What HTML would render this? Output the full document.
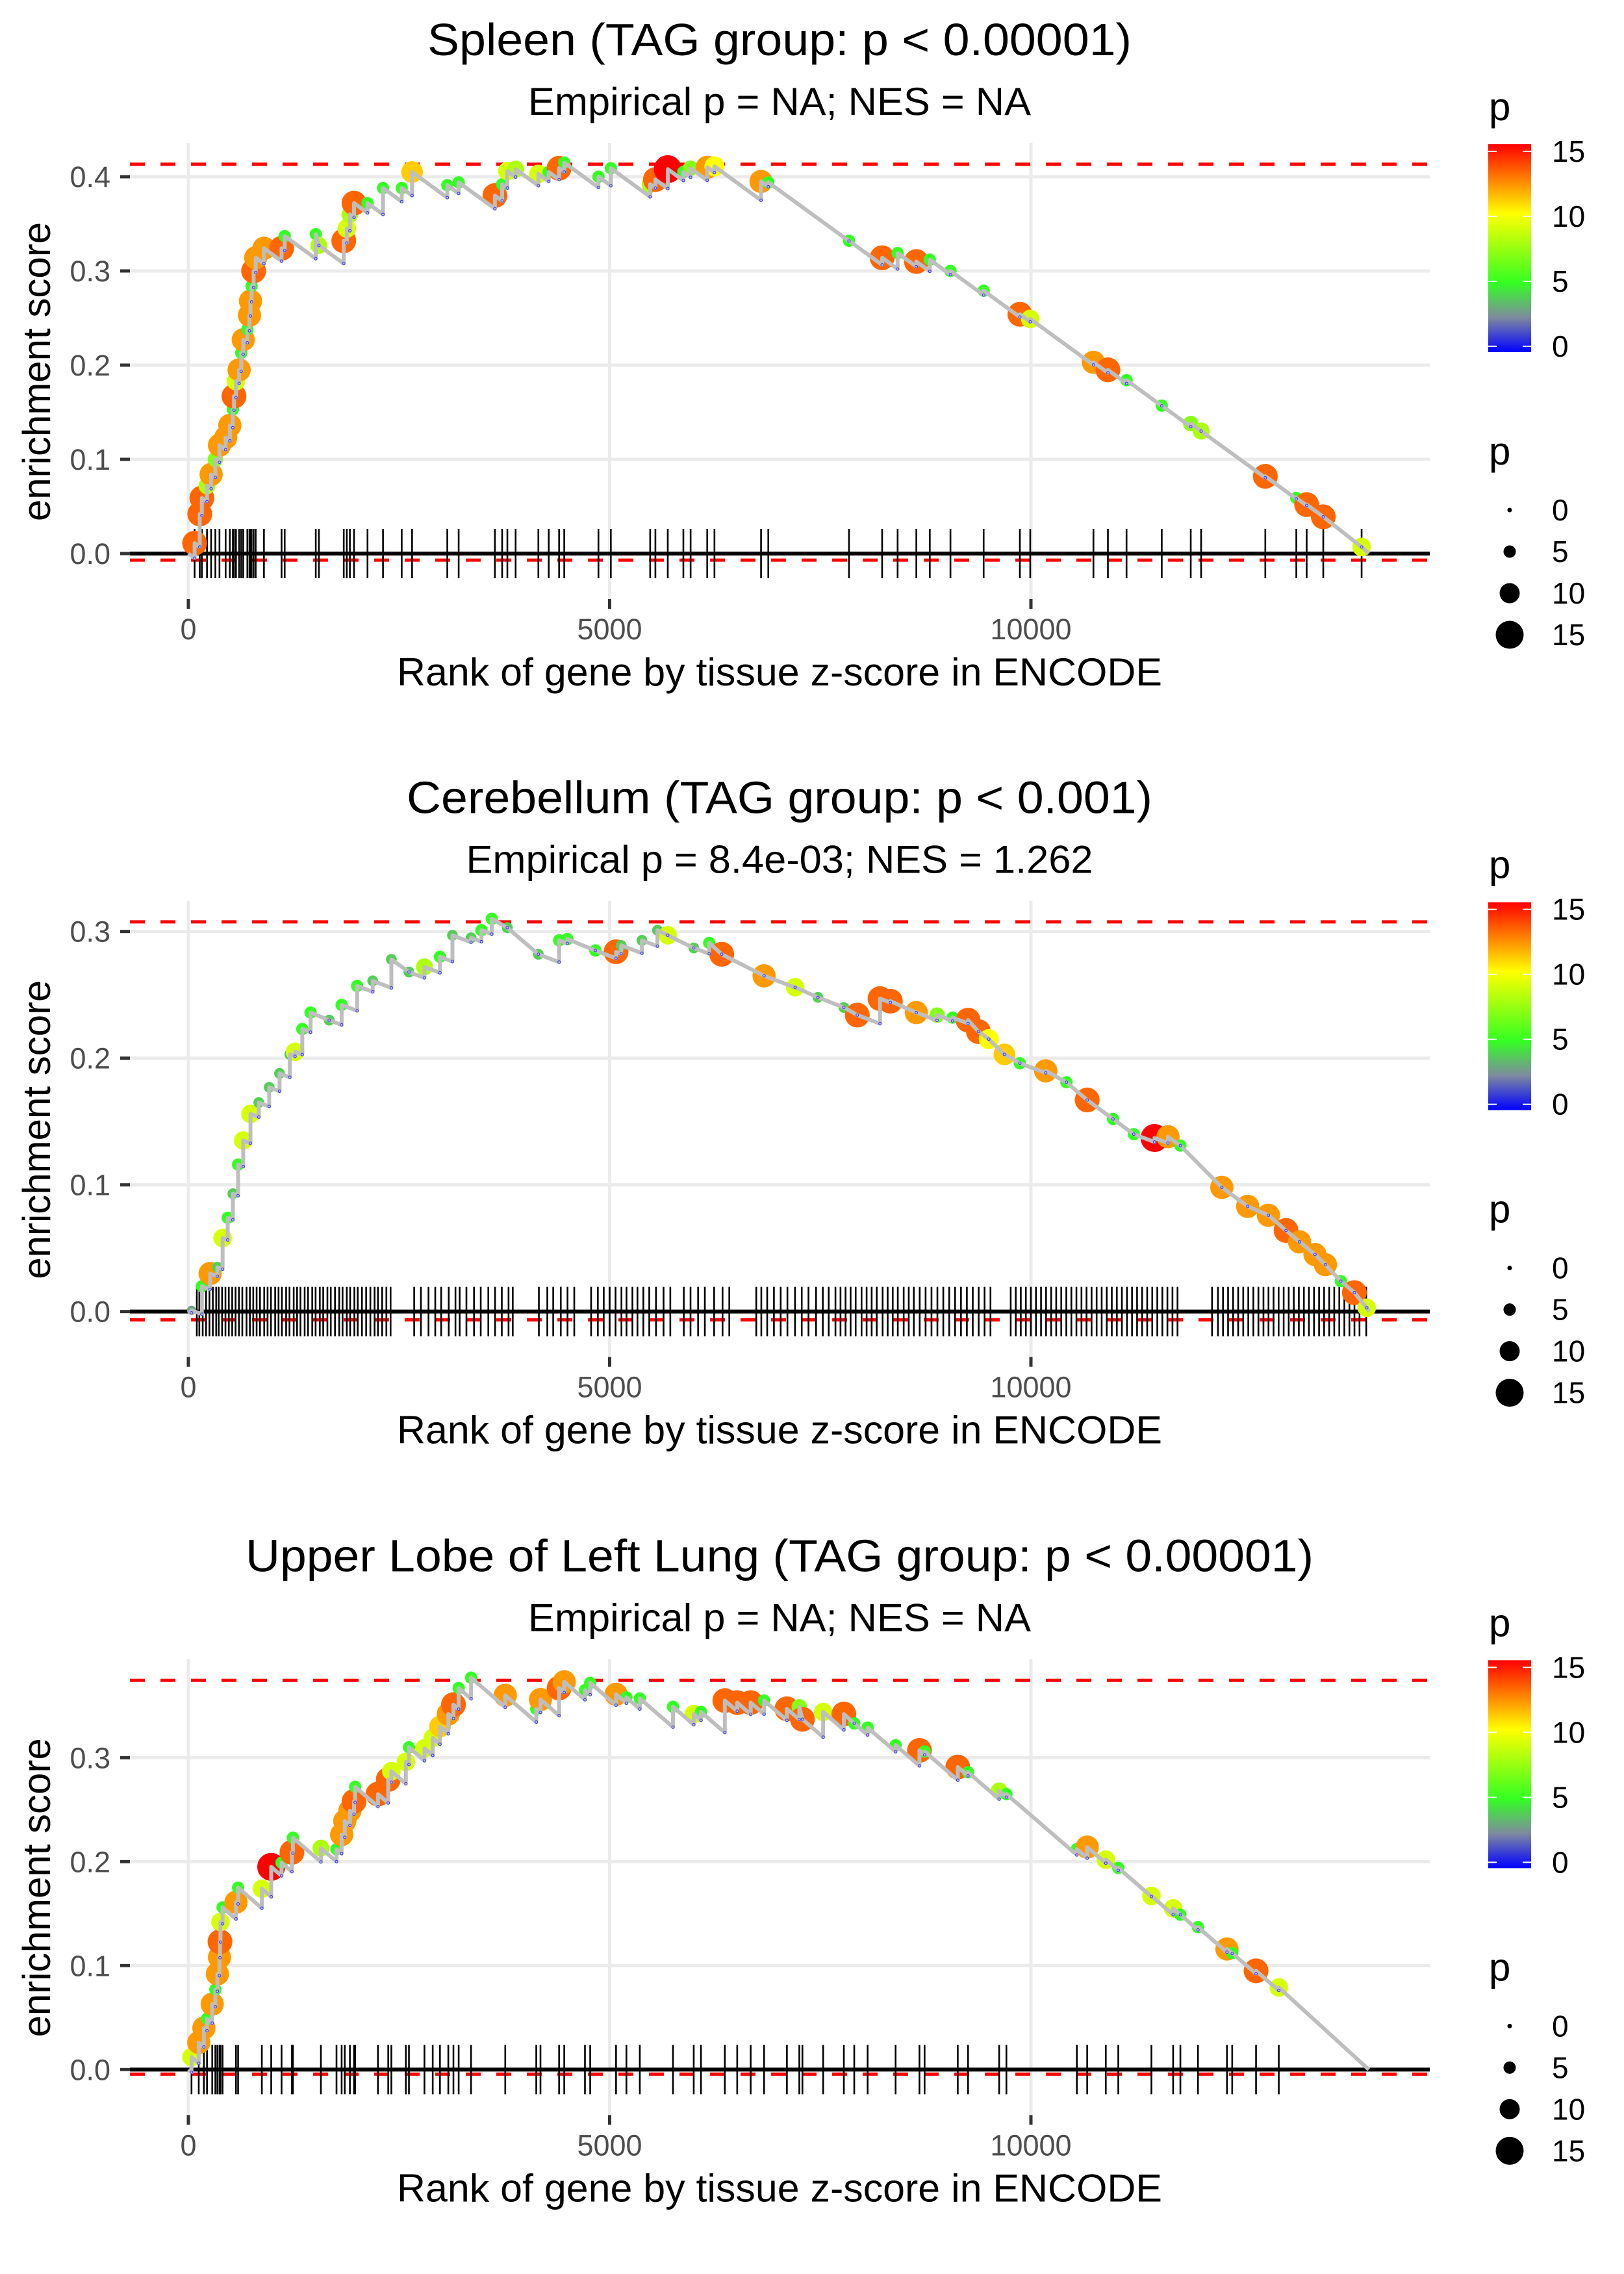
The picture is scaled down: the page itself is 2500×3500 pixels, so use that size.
<!DOCTYPE html>
<html><head><meta charset="utf-8"><style>
html,body{margin:0;padding:0;background:#fff;}
svg{display:block;font-family:"Liberation Sans",sans-serif;}
</style></head><body>
<svg id="chart" width="2500" height="3500" viewBox="0 0 2500 3500" xmlns="http://www.w3.org/2000/svg">
<defs>
<linearGradient id="pgrad" x1="0" y1="1" x2="0" y2="0">
<stop offset="0" stop-color="#0000ff"/>
<stop offset="0.1667" stop-color="#7f8aa0"/>
<stop offset="0.3333" stop-color="#33ff22"/>
<stop offset="0.6667" stop-color="#ffff00"/>
<stop offset="1" stop-color="#ff0000"/>
</linearGradient>
</defs>
</svg>
<script>
// ---- Panel 1: Spleen ----
const spleenRank=[74,135,160,221,270,320,369,442,492,528,541,565,602,627,651,700,725,737,750,774,799,897,1106,1143,1512,1549,1844,1880,1917,1966,2126,2310,2532,2655,3073,3208,3638,3724,3786,3884,4154,4277,4400,4461,4867,5014,5481,5543,5690,5875,5961,6158,6244,6797,6883,7841,8234,8418,8640,8800,9045,9439,9869,9992,10742,10914,11135,11553,11897,12020,12782,13150,13273,13470,13925];
const spleenES=[0.011,0.042,0.059,0.072,0.084,0.100,0.115,0.123,0.136,0.153,0.167,0.183,0.195,0.213,0.227,0.238,0.253,0.268,0.284,0.300,0.314,0.324,0.324,0.337,0.339,0.327,0.332,0.345,0.360,0.372,0.372,0.388,0.388,0.405,0.391,0.394,0.380,0.392,0.406,0.408,0.403,0.405,0.409,0.415,0.400,0.409,0.392,0.397,0.408,0.405,0.409,0.410,0.411,0.395,0.394,0.332,0.314,0.319,0.310,0.312,0.300,0.279,0.254,0.249,0.203,0.195,0.184,0.157,0.138,0.130,0.082,0.059,0.052,0.039,0.007];
const spleenP=[13,13,13,8,12,7,12,12,12,5,13,9,12,5,12,5,12,12,5,13,12,12,13,5,5,8,13,9,8,13,5,5,5,11,5,5,13,5,9,8,9,5,13,5,5,5,8,13,15,5,7,12,10,12,5,5,13,5,13,5,5,5,13,9,12,13,5,5,7,8,13,5,13,13,9];
const spleenTicks=spleenRank;
const spleenYTicks=[0,0.1,0.2,0.3,0.4];
const spleenYLabels=["0.0","0.1","0.2","0.3","0.4"];

// ---- Panel 2: Cerebellum ----
const cereRank=[37,160,258,344,406,467,528,590,651,737,836,959,1082,1204,1266,1352,1450,1671,1819,2003,2188,2409,2618,2802,2986,3134,3355,3478,3601,3785,4154,4400,4498,4830,5076,5137,5383,5567,5690,5998,6182,6330,6833,7202,7472,7780,7939,8209,8332,8640,8886,9070,9254,9377,9500,9685,9869,10176,10422,10668,10975,11221,11467,11627,11774,12266,12573,12819,13028,13188,13372,13495,13679,13839,13986];
const cereES=[0.001,0.020,0.030,0.035,0.058,0.074,0.093,0.116,0.135,0.156,0.165,0.177,0.188,0.203,0.205,0.223,0.236,0.230,0.242,0.257,0.261,0.278,0.268,0.272,0.280,0.297,0.295,0.301,0.310,0.303,0.282,0.293,0.294,0.285,0.284,0.289,0.293,0.301,0.297,0.287,0.291,0.282,0.265,0.256,0.248,0.240,0.234,0.247,0.245,0.236,0.234,0.232,0.230,0.221,0.215,0.203,0.196,0.190,0.181,0.167,0.152,0.140,0.137,0.138,0.131,0.098,0.083,0.076,0.064,0.055,0.045,0.037,0.024,0.015,0.003];
const cereP=[3,5,12,4,9,5,4,5,9,9,4,4,4,4,9,5,5,4,5,5,4,4,4,8,5,4,4,5,5,4,4,5,5,5,13,4,4,4,9,4,5,13,12,9,4,4,13,13,13,12,7,5,13,13,10,11,5,12,5,13,5,5,15,12,5,12,12,12,13,12,12,12,5,13,9];
const cereTicks=[100,130,170,210,250,290,330,360,400,440,480,520,560,600,640,690,730,770,810,850,900,940,980,1030,1070,1110,1160,1200,1250,1290,1330,1380,1420,1470,1510,1560,1600,1650,1690,1740,1790,1830,1880,1920,1970,2010,2060,2110,2160,2210,2250,2300,2350,2400,2680,2760,2850,2930,3000,3090,3170,3220,3300,3390,3470,3560,3640,3720,3800,3850,4160,4260,4330,4420,4500,4580,4780,4860,4930,5000,5070,5140,5200,5270,5330,5400,5470,5550,5640,5720,5880,5960,6050,6130,6240,6340,6420,6740,6800,6870,6950,7030,7110,7200,7280,7360,7450,7530,7600,7680,7740,7800,7860,7920,7990,8050,8110,8170,8240,8300,8360,8420,8490,8550,8610,8680,8750,8820,8890,8960,9030,9100,9170,9240,9310,9380,9450,9520,9760,9820,9880,9940,10000,10060,10120,10180,10240,10300,10360,10420,10480,10540,10600,10660,10720,10780,10840,10900,10960,11020,11080,11140,11200,11260,11320,11380,11440,11500,11560,11620,11680,11740,12150,12220,12280,12340,12400,12460,12520,12580,12640,12700,12760,12820,12880,12940,13000,13060,13120,13180,13240,13300,13360,13420,13480,13540,13600,13660,13720,13780,13840,13900,13980];
const cereYTicks=[0,0.1,0.2,0.3];
const cereYLabels=["0.0","0.1","0.2","0.3"];

// ---- Panel 3: Upper Lobe of Left Lung ----
const lungRank=[37,123,184,221,283,320,344,369,375,381,406,565,590,872,983,1106,1229,1241,1573,1758,1819,1856,1917,1966,1979,2250,2372,2409,2581,2618,2802,2900,2986,3085,3146,3208,3355,3761,4129,4179,4400,4461,4707,4769,5076,5199,5358,5752,5998,6084,6367,6514,6674,6833,7104,7251,7288,7534,7780,7903,8062,8394,8677,8738,9132,9254,9623,9709,10545,10668,10889,11037,11430,11688,11774,11983,12327,12389,12672,12942];
const lungES=[0.012,0.026,0.040,0.049,0.063,0.077,0.092,0.108,0.123,0.142,0.156,0.161,0.175,0.174,0.195,0.199,0.209,0.223,0.213,0.212,0.226,0.239,0.249,0.258,0.272,0.265,0.279,0.287,0.296,0.310,0.309,0.319,0.330,0.342,0.351,0.367,0.377,0.360,0.347,0.356,0.367,0.373,0.365,0.372,0.361,0.358,0.357,0.349,0.342,0.344,0.355,0.353,0.353,0.355,0.347,0.349,0.337,0.344,0.342,0.333,0.329,0.312,0.307,0.306,0.291,0.286,0.268,0.265,0.212,0.214,0.202,0.194,0.167,0.155,0.149,0.137,0.116,0.112,0.095,0.079];
const lungP=[9,12,12,5,12,5,12,12,13,9,5,12,5,9,15,5,13,5,8,5,12,12,12,13,5,13,13,9,9,5,9,9,11,12,13,5,5,12,5,12,13,12,5,5,12,5,5,5,9,5,13,13,13,5,13,7,13,9,13,5,5,5,13,5,13,5,8,5,5,12,9,5,9,9,5,5,12,5,13,9];
const lungTicks=lungRank;
const lungYTicks=[0,0.1,0.2,0.3];
const lungYLabels=["0.0","0.1","0.2","0.3"];

const xTicks=[0,5000,10000];
const xTickLabels=["0","5000","10000"];
const legendColorVals=[0,5,10,15];
const legendSizeVals=[0,5,10,15];

const panels=[
 {name:'spleen',title:'Spleen (TAG group: p < 0.00001)',tw:1084,sub:'Empirical p = NA; NES = NA',sw:774,rank:spleenRank,es:spleenES,p:spleenP,ticks:spleenTicks,yt:spleenYTicks,yl:spleenYLabels,unit:1450,top:0.4133,bot:-0.007,slope:6.5e-5,end:14010},
 {name:'cerebellum',title:'Cerebellum (TAG group: p < 0.001)',tw:1148,sub:'Empirical p = 8.4e-03; NES = 1.262',sw:965,rank:cereRank,es:cereES,p:cereP,ticks:cereTicks,yt:cereYTicks,yl:cereYLabels,unit:1950,top:0.3076,bot:-0.0065,slope:2.5e-5,end:14010},
 {name:'lung',title:'Upper Lobe of Left Lung (TAG group: p < 0.00001)',tw:1644,sub:'Empirical p = NA; NES = NA',sw:774,rank:lungRank,es:lungES,p:lungP,ticks:lungTicks,yt:lungYTicks,yl:lungYLabels,unit:1600,top:0.3744,bot:-0.0044,slope:7e-5,end:14010}
];

const NS='http://www.w3.org/2000/svg';
const svg=document.getElementById('chart');
function mk(tag,attrs,parent){const e=document.createElementNS(NS,tag);for(const k in attrs)e.setAttribute(k,attrs[k]);(parent||svg).appendChild(e);return e;}
const xS=r=>290+r*0.1297;
const stops=[[0,[0,0,255]],[2.5,[127,138,160]],[5,[51,255,34]],[10,[255,255,0]],[15,[255,0,0]]];
function col(p){p=Math.max(0,Math.min(15,p));for(let i=0;i<stops.length-1;i++){const a=stops[i],b=stops[i+1];if(p<=b[0]){const t=(p-a[0])/(b[0]-a[0]);const c=a[1].map((v,j)=>Math.round(v+(b[1][j]-v)*t));return `rgb(${c[0]},${c[1]},${c[2]})`;}}return 'rgb(255,0,0)';}
const rad=p=>3.5+1.2*p;
const L=200,R=2201;

panels.forEach((P,i)=>{
 const off=i*1166.67;
 const yS=v=>off+852-v*P.unit;
 const g=mk('g',{});
 
 
 let t=mk('text',{x:1200,y:off+85,'text-anchor':'middle','font-size':70,fill:'#000',textLength:P.tw,lengthAdjust:'spacingAndGlyphs'},g);t.textContent=P.title;
 
 t=mk('text',{x:1200,y:off+177,'text-anchor':'middle','font-size':60,fill:'#000',textLength:P.sw,lengthAdjust:'spacingAndGlyphs'},g);t.textContent=P.sub;
 
 P.yt.forEach((v,k)=>{
  const l=mk('line',{x1:L,x2:R,y1:yS(v),y2:yS(v),stroke:'#ebebeb','stroke-width':5},g);
  
  const tk=mk('line',{x1:185,x2:200,y1:yS(v),y2:yS(v),stroke:'#333','stroke-width':5},g);
  
  const tl=mk('text',{x:170,y:yS(v)+16,'text-anchor':'end','font-size':45,fill:'#4d4d4d'},g);tl.textContent=P.yl[k];
  
 });
 xTicks.forEach((v,k)=>{
  const l=mk('line',{x1:xS(v),x2:xS(v),y1:off+220,y2:off+922,stroke:'#ebebeb','stroke-width':5},g);
  
  const tk=mk('line',{x1:xS(v),x2:xS(v),y1:off+922,y2:off+937,stroke:'#333','stroke-width':5},g);
  
  const tl=mk('text',{x:xS(v),y:off+984,'text-anchor':'middle','font-size':45,fill:'#4d4d4d'},g);tl.textContent=xTickLabels[k];
  
 });
 t=mk('text',{x:1200,y:off+1055,'text-anchor':'middle','font-size':60,fill:'#000',textLength:1178,lengthAdjust:'spacingAndGlyphs'},g);t.textContent='Rank of gene by tissue z-score in ENCODE';
 
 t=mk('text',{x:0,y:0,'text-anchor':'middle','font-size':60,fill:'#000',transform:`translate(77,${off+572}) rotate(-90)`},g);t.textContent='enrichment score';
 
 [P.top,P.bot].forEach(v=>{
  const l=mk('line',{x1:L,x2:R,y1:yS(v),y2:yS(v),stroke:'#ff0000','stroke-width':5,'stroke-dasharray':'23 24'},g);
  
 });
 let z=mk('line',{x1:L,x2:R,y1:yS(0),y2:yS(0),stroke:'#000','stroke-width':6},g);
 
 P.ticks.forEach(r=>{
  const l=mk('line',{x1:xS(r),x2:xS(r),y1:yS(0)-38,y2:yS(0)+38,stroke:'#000','stroke-width':2.6},g);
  
 });
 P.rank.forEach((r,k)=>{
  const c=mk('circle',{cx:xS(r),cy:yS(P.es[k]),r:rad(P.p[k]),fill:col(P.p[k])},g);
  
 });
 let d=`M${xS(0)},${yS(0)}`;let prevR=0,prevE=0;const lows=[];
 P.rank.forEach((r,k)=>{
  const e=P.es[k];const before=Math.min(prevE-P.slope*(r-prevR),e);
  d+=` L${xS(r)},${yS(before)} L${xS(r)},${yS(e)}`;lows.push([r,before]);prevR=r;prevE=e;
 });
 d+=` L${xS(P.end)},${yS(0)}`;
 const path=mk('path',{d:d,fill:'none',stroke:'#bebebe','stroke-width':6,'stroke-linejoin':'round'},g);
 
 lows.forEach(q=>{
  const c=mk('circle',{cx:xS(q[0]),cy:yS(q[1]),r:2,fill:'none',stroke:'#3333ff','stroke-width':1},g);
  
 });
 t=mk('text',{x:2292,y:off+185,'font-size':60,fill:'#000'},g);t.textContent='p';
 
 const bar=mk('rect',{x:2291,y:off+222,width:66,height:320,fill:'url(#pgrad)'},g);
 
 legendColorVals.forEach(v=>{
  const yy=off+533-v*20;
  const a=mk('line',{x1:2291,x2:2304,y1:yy,y2:yy,stroke:'#fff','stroke-width':2},g);
  
  const b=mk('line',{x1:2344,x2:2357,y1:yy,y2:yy,stroke:'#fff','stroke-width':2},g);
  
  const tl=mk('text',{x:2389,y:yy+16,'font-size':46,fill:'#000'},g);tl.textContent=String(v);
  
 });
 t=mk('text',{x:2292,y:off+715,'font-size':60,fill:'#000'},g);t.textContent='p';
 
 legendSizeVals.forEach((v,k)=>{
  const yy=off+785+k*64;
  const c=mk('circle',{cx:2324,cy:yy,r:rad(v),fill:'#000'},g);
  
  const tl=mk('text',{x:2389,y:yy+16,'font-size':46,fill:'#000'},g);tl.textContent=String(v);
  
 });
});
</script>
</body></html>
